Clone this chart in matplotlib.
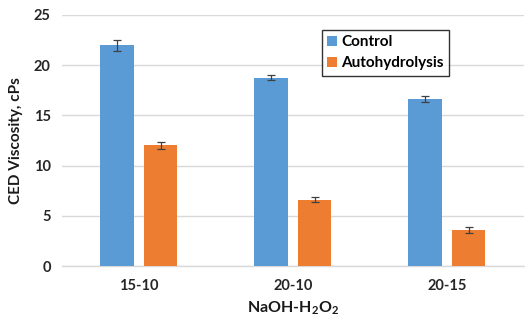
import matplotlib
matplotlib.use("Agg")
import matplotlib.pyplot as plt
import numpy as np

categories = ["15-10", "20-10", "20-15"]
control = [22.0, 18.75, 16.6]
control_err = [0.55, 0.25, 0.3]
autohydrolysis = [12.0, 6.6, 3.55]
autohydrolysis_err = [0.38, 0.23, 0.3]

plt.rcParams['font.family'] = ['Lato', 'DejaVu Sans']
plt.rcParams['mathtext.fontset'] = 'custom'
plt.rcParams['mathtext.bf'] = 'Lato:bold'
plt.rcParams['mathtext.rm'] = 'Lato:bold'

fig = plt.figure(figsize=(5.25, 3.24), dpi=100)
ax = fig.add_axes([0.118, 0.179, 0.880, 0.775])

x = np.arange(len(categories))
w = 0.22
off = 0.14
ekw = dict(ecolor='#404040', elinewidth=0.9, capsize=3, capthick=0.9)
ax.bar(x - off, control, w, color='#5B9BD5', yerr=control_err, error_kw=ekw, label='Control', zorder=3)
ax.bar(x + off, autohydrolysis, w, color='#ED7D31', yerr=autohydrolysis_err, error_kw=ekw, label='Autohydrolysis', zorder=3)

ax.set_xlim(-0.5, 2.5)
ax.set_ylim(0, 25)
ax.set_yticks([0, 5, 10, 15, 20, 25])
ax.set_xticks(x)
ax.set_xticklabels(categories)
ax.yaxis.grid(True, color='#D9D9D9', linewidth=1)
ax.set_axisbelow(True)
for s in ['top', 'right', 'left']:
    ax.spines[s].set_visible(False)
ax.spines['bottom'].set_color('#D9D9D9')
ax.spines['bottom'].set_linewidth(1)
ax.tick_params(axis='x', length=0, labelsize=10.5, colors='#262626', pad=9)
ax.tick_params(axis='y', length=0, labelsize=10.5, colors='#262626', pad=8)
for lbl in ax.get_xticklabels() + ax.get_yticklabels():
    lbl.set_fontweight('bold')

ax.set_ylabel('CED Viscosity, cPs', fontsize=11, fontweight='bold', color='#1a1a1a', labelpad=8)
ax.set_xlabel(r'NaOH-H$_\mathbf{2}$O$_\mathbf{2}$', fontsize=11.5, fontweight='bold', color='#1a1a1a', labelpad=5)

leg = fig.legend(loc='upper left', bbox_to_anchor=(322/525, 1 - 30/324),
                 prop={'weight': 'bold', 'size': 11}, frameon=True, fancybox=False,
                 edgecolor='black', handlelength=0.6, handleheight=0.6,
                 handletextpad=0.3, borderpad=0.35, labelspacing=0.45, borderaxespad=0)
leg.get_frame().set_linewidth(1.0)

fig.savefig('out.png', dpi=100)
